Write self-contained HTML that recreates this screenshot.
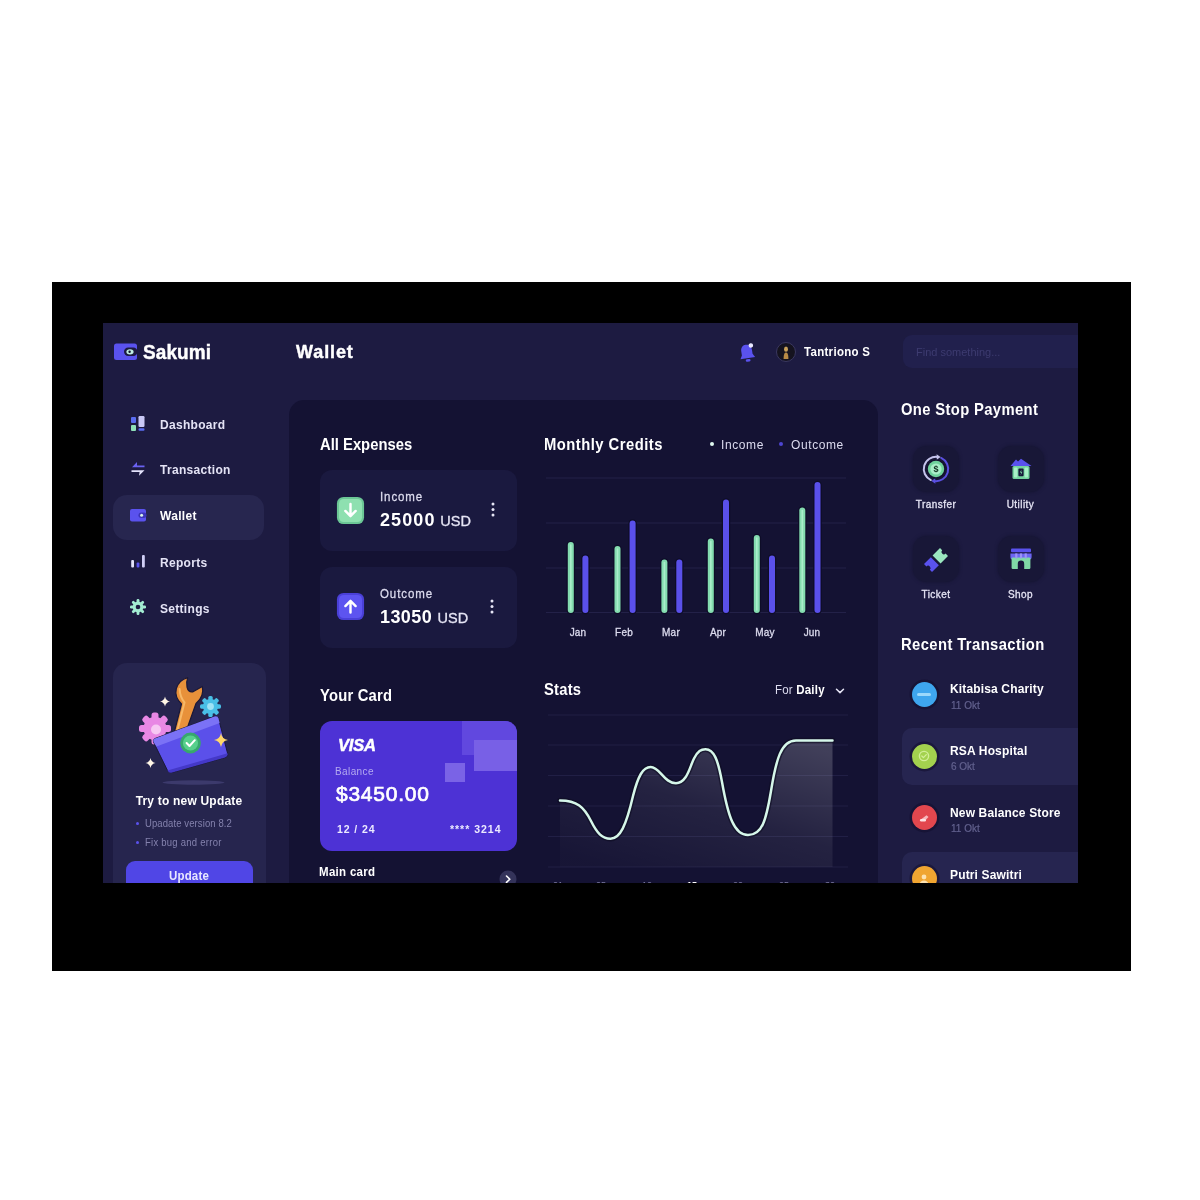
<!DOCTYPE html>
<html lang="en">
<head>
<meta charset="utf-8">
<title>Sakumi Wallet</title>
<style>
*{box-sizing:border-box;margin:0;padding:0}
html,body{width:1200px;height:1200px;background:#fff;overflow:hidden}
body{position:relative;font-family:"Liberation Sans",sans-serif;color:#fff}
.bezel{position:absolute;left:52px;top:282px;width:1079px;height:689px;background:#000}
.screen{position:absolute;left:103px;top:323px;width:975px;height:560px;overflow:hidden;background:#1d1b41}
.in{position:absolute;left:-103px;top:-323px;width:1200px;height:1200px}
.in>*{position:absolute}
.t{position:absolute;white-space:nowrap;line-height:1;transform:translate(var(--tx,0),-50%) scaleY(var(--sy,1.07))}
.b{font-weight:700}
.h{font-size:14.800px;font-weight:700;color:#fff;letter-spacing:.2px}
.nav{font-size:12px;font-weight:700;color:#e4e3f5;letter-spacing:.3px}
.dim{color:#6f6d98}
.panel{left:289px;top:400px;width:589px;height:520px;background:#141233;border-radius:15px}
.card{background:#1a193f;border-radius:12px}
.tile{width:46px;height:46px;background:#181737;border-radius:14px;box-shadow:0 0 3px 1px #181737}
.lbl{font-size:10px;color:#e4e3f3;--tx:-50%;letter-spacing:.45px;-webkit-text-stroke:.3px #e4e3f3}
.row{left:902px;width:190px;height:57px;background:#262550;border-radius:10px}
.circ{width:25px;height:25px;border-radius:50%;box-shadow:0 0 0 2.500px rgba(18,15,45,.55)}
.tt{font-size:12px;font-weight:700;color:#fff;letter-spacing:.15px}
.ts{font-size:10px;color:#62618e;-webkit-text-stroke:.2px #62618e}
.mon{font-size:10px;color:#dcdbee;--tx:-50%;-webkit-text-stroke:.3px #dcdbee;letter-spacing:.2px}
</style>
</head>
<body>
<div class="bezel"></div>
<div class="screen"><div class="in">

<!-- ===== SIDEBAR ===== -->
<svg style="left:113px;top:342px" width="26" height="20" viewBox="0 0 26 20">
  <rect x="1" y="1.5" width="23" height="16.5" rx="2.5" fill="#5a52ee"/>
  <rect x="11" y="5.5" width="13.5" height="8.5" rx="4.2" fill="#1d1b41"/>
  <ellipse cx="17" cy="9.8" rx="3.6" ry="2.6" fill="#bfeee0"/>
  <circle cx="16.6" cy="9.8" r="1.2" fill="#14132f"/>
</svg>
<div class="t b" style="left:143px;top:352px;font-size:19px;letter-spacing:.1px;-webkit-text-stroke:.4px #fff">Sakumi</div>

<div style="left:113px;top:494.500px;width:150.500px;height:45px;background:#27264f;border-radius:14px"></div>

<!-- nav icons -->
<svg style="left:129px;top:415px" width="18" height="18" viewBox="0 0 18 18">
  <rect x="2" y="2" width="5" height="6" rx="1" fill="#5a6cf0"/>
  <rect x="2" y="10" width="5" height="6" rx="1" fill="#8fe0b8"/>
  <rect x="9.5" y="1" width="6" height="11" rx="1.2" fill="#c9c8f5"/>
  <rect x="9.5" y="13.2" width="6" height="2.6" rx="1" fill="#5a6cf0"/>
</svg>
<svg style="left:129px;top:460px" width="18" height="18" viewBox="0 0 18 18">
  <path d="M3 7.2 L8 2 L8 5.6 L15.5 5.6 L15.5 7.2 Z" fill="#6a62f2"/>
  <path d="M15.5 10.2 L10 15.8 L10.6 12 L2.5 12 L2.5 10.2 Z" fill="#e4e3fb"/>
</svg>
<svg style="left:129px;top:507px" width="18" height="16" viewBox="0 0 18 16">
  <rect x="1" y="2" width="16" height="12.5" rx="2" fill="#5a52ee"/>
  <rect x="9.5" y="5.5" width="8" height="5.5" rx="2.7" fill="#3b34b8"/>
  <circle cx="12.6" cy="8.2" r="1.5" fill="#d9f3ea"/>
</svg>
<svg style="left:129px;top:552px" width="18" height="18" viewBox="0 0 18 18">
  <rect x="2.2" y="8" width="2.8" height="7.5" rx="1" fill="#e4e3fb"/>
  <rect x="7.6" y="10.5" width="2.8" height="5" rx="1" fill="#5a52ee"/>
  <rect x="13" y="3" width="2.8" height="12.5" rx="1" fill="#d0cff5"/>
</svg>
<svg style="left:129px;top:598px" width="18" height="18" viewBox="0 0 18 18">
  <g fill="#a3ecd2">
    <circle cx="9" cy="9" r="5.4"/>
    <g id="tth"><rect x="7.6" y="1" width="2.8" height="16" rx="1.2"/></g>
    <rect x="7.6" y="1" width="2.8" height="16" rx="1.2" transform="rotate(45 9 9)"/>
    <rect x="7.6" y="1" width="2.8" height="16" rx="1.2" transform="rotate(90 9 9)"/>
    <rect x="7.6" y="1" width="2.8" height="16" rx="1.2" transform="rotate(135 9 9)"/>
  </g>
  <circle cx="9" cy="9" r="2.3" fill="#1d1b41"/>
</svg>

<div class="t nav" style="left:160px;top:424.500px">Dashboard</div>
<div class="t nav" style="left:160px;top:469.500px">Transaction</div>
<div class="t nav" style="left:160px;top:516px;color:#fff">Wallet</div>
<div class="t nav" style="left:160px;top:562.500px">Reports</div>
<div class="t nav" style="left:160px;top:608.500px">Settings</div>

<!-- update card -->
<div style="left:113px;top:663px;width:153px;height:260px;background:#26254e;border-radius:14px"></div>
<svg style="left:130px;top:670px" width="120" height="120" viewBox="130 670 120 120">
  <ellipse cx="193.500" cy="782.500" rx="31" ry="2.2" fill="#3c3a6c"/>
  <!-- wrench -->
  <path d="M187.700 677.600 Q186 682 187 687 Q188.300 692.600 193 691.800 L202.300 686.400 Q204.500 696.500 196 703.500 L186 731.500 L173.800 734 L181.500 704 Q174.300 697 176.300 688.500 Q178.800 680 187.700 677.600 Z" fill="#e8913a" stroke="#1a1838" stroke-width="1.200" stroke-linejoin="round"/>
  <path d="M179.600 689 Q180 697 184.500 702.500 L177.500 730" stroke="#f7b867" stroke-width="2" stroke-linecap="round" fill="none"/>
  <!-- pink gear -->
  <g fill="#e888e4">
    <circle cx="155" cy="728.500" r="11.500"/>
    <g>
      <rect x="151.500" y="712.500" width="7" height="32" rx="2.500"/>
      <rect x="151.500" y="712.500" width="7" height="32" rx="2.500" transform="rotate(45 155 728.500)"/>
      <rect x="151.500" y="712.500" width="7" height="32" rx="2.500" transform="rotate(90 155 728.500)"/>
      <rect x="151.500" y="712.500" width="7" height="32" rx="2.500" transform="rotate(135 155 728.500)"/>
    </g>
  </g>
  <circle cx="156" cy="729.500" r="5" fill="#f7c8f3"/>
  <!-- cyan gear -->
  <g fill="#49bfe6">
    <circle cx="210.500" cy="706.500" r="7.600"/>
    <rect x="208.300" y="696" width="4.400" height="21" rx="1.600"/>
    <rect x="208.300" y="696" width="4.400" height="21" rx="1.600" transform="rotate(45 210.500 706.500)"/>
    <rect x="208.300" y="696" width="4.400" height="21" rx="1.600" transform="rotate(90 210.500 706.500)"/>
    <rect x="208.300" y="696" width="4.400" height="21" rx="1.600" transform="rotate(135 210.500 706.500)"/>
  </g>
  <circle cx="210.500" cy="706.500" r="3.400" fill="#9fe3f5"/>
  <!-- folder body -->
  <path d="M153.500 742 Q152.500 739.500 155 738.500 L214.500 716.500 Q217.500 715.500 218.500 718.500 L227.500 753 Q228.300 756.500 225 757.500 L172 772.500 Q169 773.300 167.500 770.500 Z" fill="#5b50ea" stroke="#1a1838" stroke-width="1"/>
  <path d="M153.500 742 Q152.500 739.500 155 738.500 L214.500 716.500 Q217.500 715.500 218.500 718.500 L219.700 723 L156.500 746.500 Z" fill="#7b72f6"/>
  <path d="M167.500 770.500 L225 754 Q228 753 227.500 753 Q228.300 756.500 225 757.500 L172 772.500 Q169 773.300 167.500 770.500 Z" fill="#4438c8"/>
  <!-- check -->
  <circle cx="190.500" cy="743" r="10.400" fill="#37a86c"/>
  <circle cx="190.500" cy="743" r="7.600" fill="#57d08c"/>
  <path d="M186.600 743 L189.500 746 L194.800 740.200" fill="none" stroke="#fff" stroke-width="2" stroke-linecap="round" stroke-linejoin="round"/>
  <!-- sparkles -->
  <path d="M165 696.500 Q165.800 700.700 170 701.500 Q165.800 702.300 165 706.500 Q164.200 702.300 160 701.500 Q164.200 700.700 165 696.500 Z" fill="#fff6e6"/>
  <path d="M221 733 Q222 739 228 740 Q222 741 221 747 Q220 741 214 740 Q220 739 221 733 Z" fill="#ffd76a"/>
  <path d="M150.500 758 Q151.300 762.200 155.500 763 Q151.300 763.800 150.500 768 Q149.700 763.800 145.500 763 Q149.700 762.200 150.500 758 Z" fill="#fff6e6"/>
</svg>

<div class="t b" style="left:189px;top:801px;font-size:12px;--tx:-50%;letter-spacing:.2px">Try to new Update</div>
<div style="left:136px;top:822px;width:3px;height:3px;border-radius:50%;background:#5a52ee"></div>
<div style="left:136px;top:841px;width:3px;height:3px;border-radius:50%;background:#5a52ee"></div>
<div class="t" style="left:145px;top:823.500px;font-size:9.500px;color:#8482ad;letter-spacing:.1px">Upadate version 8.2</div>
<div class="t" style="left:145px;top:842.500px;font-size:9.500px;color:#8482ad;letter-spacing:.25px">Fix bug and error</div>
<div style="left:126px;top:861px;width:127px;height:40px;background:#5046e6;border-radius:9px"></div>
<div class="t b" style="left:189px;top:877px;font-size:11.500px;--tx:-50%;color:#e8e7ff;letter-spacing:.2px">Update</div>

<!-- ===== HEADER ===== -->
<div class="t b" style="left:296px;top:352px;font-size:18px;letter-spacing:.9px;-webkit-text-stroke:.4px #fff">Wallet</div>
<svg style="left:737px;top:341px;transform:rotate(-9deg)" width="22" height="24" viewBox="0 0 22 24">
  <path d="M10 3.5 C6.3 3.5 4.6 6.4 4.6 9.4 L4.6 13.4 L2.6 17 L17.4 17 L15.4 13.4 L15.4 9.4 C15.4 6.4 13.7 3.5 10 3.5 Z" fill="#5a52ee"/>
  <rect x="7.6" y="18" width="4.8" height="2.6" rx="1.3" fill="#5a52ee"/>
  <circle cx="15" cy="5" r="2.3" fill="#e9e8ff"/>
</svg>
<svg style="left:775px;top:341px" width="22" height="22" viewBox="0 0 22 22">
  <circle cx="11" cy="11" r="9.5" fill="#15131f"/>
  <circle cx="11" cy="11" r="9.5" fill="none" stroke="#3a3760" stroke-width="1"/>
  <ellipse cx="11" cy="8.2" rx="2" ry="2.6" fill="#c9a15a"/>
  <path d="M8.6 18 C8.6 13.5 9.5 11.5 11 11.5 C12.5 11.5 13.4 13.5 13.4 18 Z" fill="#b88a45"/>
</svg>
<div class="t b" style="left:804px;top:353px;font-size:11.500px;letter-spacing:.3px">Tantriono S</div>
<div style="left:903px;top:335px;width:200px;height:33px;background:#21204d;border-radius:9px"></div>
<div class="t" style="left:916px;top:352px;font-size:11px;color:#3d3b70">Find something...</div>

<!-- ===== CENTER PANEL ===== -->
<div class="panel"></div>
<div class="t h" style="left:320px;top:445px;letter-spacing:0">All Expenses</div>

<div class="card" style="left:320px;top:470px;width:197px;height:81px"></div>
<svg style="left:335.700px;top:495.700px" width="29" height="29" viewBox="0 0 31 31">
  <rect x="1" y="1" width="29" height="29" rx="7" fill="#6cc796"/>
  <rect x="3.2" y="3.2" width="24.6" height="24.6" rx="5" fill="#8ee0b0"/>
  <path d="M15.5 8.5 V21 M10 16 L15.5 21.5 L21 16" fill="none" stroke="#fff" stroke-width="2.6" stroke-linecap="round" stroke-linejoin="round"/>
</svg>
<div class="t" style="left:380px;top:498.300px;font-size:11.500px;color:#dcdbee;letter-spacing:.9px;-webkit-text-stroke:.25px #dcdbee">Income</div>
<div class="t" style="--sy:1;left:380px;top:520px;font-size:18px;font-weight:700;letter-spacing:1.1px">25000 <span style="margin-left:-1.500px;font-size:14.500px;font-weight:400;color:#e6e5f5;letter-spacing:.1px;-webkit-text-stroke:.3px #e6e5f5">USD</span></div>
<svg style="left:489px;top:501px" width="8" height="18" viewBox="0 0 8 18"><circle cx="4" cy="3" r="1.5" fill="#e6e5f5"/><circle cx="4" cy="8.5" r="1.5" fill="#e6e5f5"/><circle cx="4" cy="14" r="1.5" fill="#e6e5f5"/></svg>

<div class="card" style="left:320px;top:567px;width:197px;height:81px"></div>
<svg style="left:335.700px;top:592.200px" width="29" height="29" viewBox="0 0 31 31">
  <rect x="1" y="1" width="29" height="29" rx="7" fill="#4a40d8"/>
  <rect x="3.2" y="3.2" width="24.6" height="24.6" rx="5" fill="#5d54f0"/>
  <path d="M15.5 22 V9.5 M10 15 L15.5 9.5 L21 15" fill="none" stroke="#fff" stroke-width="2.6" stroke-linecap="round" stroke-linejoin="round"/>
</svg>
<div class="t" style="left:380px;top:595.300px;font-size:11.500px;color:#dcdbee;letter-spacing:.9px;-webkit-text-stroke:.25px #dcdbee">Outcome</div>
<div class="t" style="--sy:1;left:380px;top:617px;font-size:18px;font-weight:700;letter-spacing:.4px">13050 <span style="font-size:14.500px;font-weight:400;color:#e6e5f5;letter-spacing:.1px;-webkit-text-stroke:.3px #e6e5f5">USD</span></div>
<svg style="left:488px;top:598px" width="8" height="18" viewBox="0 0 8 18"><circle cx="4" cy="3" r="1.5" fill="#e6e5f5"/><circle cx="4" cy="8.5" r="1.5" fill="#e6e5f5"/><circle cx="4" cy="14" r="1.5" fill="#e6e5f5"/></svg>

<div class="t h" style="left:320px;top:696px">Your Card</div>
<div style="left:320px;top:721px;width:197px;height:130px;background:#4d32d5;border-radius:12px;overflow:hidden">
  <div style="position:absolute;left:142px;top:0;width:60px;height:34px;background:#6148df"></div>
  <div style="position:absolute;left:154px;top:19px;width:50px;height:31px;background:#7860e6"></div>
  <div style="position:absolute;left:125px;top:42px;width:20px;height:19px;background:#7a63e6"></div>
</div>
<div class="t" style="--sy:1;left:338px;top:744.700px;font-size:16.500px;font-weight:700;font-style:italic;letter-spacing:-.2px;-webkit-text-stroke:.5px #fff">VISA</div>
<div class="t" style="left:335px;top:772px;font-size:10px;color:#b5abf0;letter-spacing:.4px">Balance</div>
<div class="t" style="--sy:1;left:336px;top:792.500px;font-size:21px;letter-spacing:.75px;-webkit-text-stroke:.7px #fff">$3450.00</div>
<div class="t b" style="--sy:1;left:337px;top:828.500px;font-size:10.500px;color:#eceaff;letter-spacing:.9px">12 / 24</div>
<div class="t b" style="--sy:1;right:698.500px;top:828.500px;font-size:10.500px;color:#eceaff;letter-spacing:1px">**** 3214</div>
<div class="t b" style="left:319px;top:873px;font-size:11.500px;letter-spacing:.3px">Main card</div>
<svg style="left:499px;top:870px" width="18" height="18" viewBox="0 0 18 18"><circle cx="9" cy="9" r="8.5" fill="#34335a"/><path d="M7.5 6 L10.8 9.2 L7.5 12.4" fill="none" stroke="#fff" stroke-width="1.6" stroke-linecap="round" stroke-linejoin="round"/></svg>

<!-- Monthly credits -->
<div class="t h" style="left:544px;top:445px;letter-spacing:.47px">Monthly Credits</div>
<div style="left:710px;top:442px;width:4px;height:4px;border-radius:50%;background:#e0faf0"></div>
<div class="t" style="left:721px;top:444.5px;font-size:12px;color:#dddcf0;letter-spacing:.6px">Income</div>
<div style="left:779px;top:442px;width:4px;height:4px;border-radius:50%;background:#4d45d2"></div>
<div class="t" style="left:791px;top:444.5px;font-size:12px;color:#dddcf0;letter-spacing:.6px">Outcome</div>
<svg style="left:540px;top:470px" width="320" height="150" viewBox="540 470 320 150">
  <g stroke="#232148" stroke-width="1">
    <line x1="546" y1="478" x2="846" y2="478"/><line x1="546" y1="523" x2="846" y2="523"/>
    <line x1="546" y1="568" x2="846" y2="568"/><line x1="546" y1="612.5" x2="846" y2="612.5"/>
  </g>
  <g stroke-linecap="round" fill="none">
    <g stroke="#0e0d28" stroke-width="8.500">
      <line x1="570.8" y1="545" x2="570.8" y2="610"/><line x1="617.5" y1="549" x2="617.5" y2="610"/>
      <line x1="664.4" y1="562.5" x2="664.4" y2="610"/><line x1="710.8" y1="541.5" x2="710.8" y2="610"/>
      <line x1="756.8" y1="538" x2="756.8" y2="610"/><line x1="802.3" y1="510.5" x2="802.3" y2="610"/>
    
      <line x1="585.4" y1="558.5" x2="585.4" y2="610"/><line x1="632.6" y1="523.5" x2="632.6" y2="610"/>
      <line x1="679.3" y1="562.5" x2="679.3" y2="610"/><line x1="726" y1="502.5" x2="726" y2="610"/>
      <line x1="772" y1="558.5" x2="772" y2="610"/><line x1="817.5" y1="485" x2="817.5" y2="610"/>
    </g>
    <g stroke="#84dcb0" stroke-width="6">
      <line x1="570.8" y1="545" x2="570.8" y2="610"/><line x1="617.5" y1="549" x2="617.5" y2="610"/>
      <line x1="664.4" y1="562.5" x2="664.4" y2="610"/><line x1="710.8" y1="541.5" x2="710.8" y2="610"/>
      <line x1="756.8" y1="538" x2="756.8" y2="610"/><line x1="802.3" y1="510.5" x2="802.3" y2="610"/>
    </g>
    <g stroke="#a9edcb" stroke-width="1.600">
      <line x1="570.8" y1="545" x2="570.8" y2="610"/><line x1="617.5" y1="549" x2="617.5" y2="610"/>
      <line x1="664.4" y1="562.5" x2="664.4" y2="610"/><line x1="710.8" y1="541.5" x2="710.8" y2="610"/>
      <line x1="756.8" y1="538" x2="756.8" y2="610"/><line x1="802.3" y1="510.5" x2="802.3" y2="610"/>
    </g>
    <g stroke="#5a50ea" stroke-width="6">
      <line x1="585.4" y1="558.5" x2="585.4" y2="610"/><line x1="632.6" y1="523.5" x2="632.6" y2="610"/>
      <line x1="679.3" y1="562.5" x2="679.3" y2="610"/><line x1="726" y1="502.5" x2="726" y2="610"/>
      <line x1="772" y1="558.5" x2="772" y2="610"/><line x1="817.5" y1="485" x2="817.5" y2="610"/>
    </g>
  </g>
</svg>
<div class="t mon" style="left:578px;top:633px">Jan</div>
<div class="t mon" style="left:624px;top:633px">Feb</div>
<div class="t mon" style="left:671px;top:633px">Mar</div>
<div class="t mon" style="left:718px;top:633px">Apr</div>
<div class="t mon" style="left:765px;top:633px">May</div>
<div class="t mon" style="left:812px;top:633px">Jun</div>

<!-- Stats -->
<div class="t h" style="left:544px;top:689.500px">Stats</div>
<div class="t" style="left:775px;top:691px;font-size:11.5px;color:#dddcf0;letter-spacing:.2px">For <span class="b" style="color:#fff">Daily</span></div>
<svg style="left:834px;top:685px" width="12" height="12" viewBox="0 0 12 12"><path d="M2.5 4.2 L6 7.6 L9.5 4.2" fill="none" stroke="#e6e5f5" stroke-width="1.5" stroke-linecap="round" stroke-linejoin="round"/></svg>
<svg style="left:540px;top:705px" width="320" height="185" viewBox="540 705 320 185">
  <defs><linearGradient id="ag" x1="0.15" y1="1" x2="0.85" y2="0"><stop offset="0" stop-color="#ffffff" stop-opacity=".015"/><stop offset=".5" stop-color="#ffffff" stop-opacity=".07"/><stop offset="1" stop-color="#ffffff" stop-opacity=".19"/></linearGradient></defs>
  <g stroke="#211f45" stroke-width="1">
    <line x1="548" y1="715" x2="848" y2="715"/><line x1="548" y1="745" x2="848" y2="745"/><line x1="548" y1="775.5" x2="848" y2="775.5"/>
    <line x1="548" y1="806" x2="848" y2="806"/><line x1="548" y1="836.5" x2="848" y2="836.5"/><line x1="548" y1="867" x2="848" y2="867"/>
  </g>
  <path id="cv" d="M560 800.500 C577 800.500 584 807 591 821 C597 833 602 838.700 610.500 838.700 C620 838.700 626 826 633 796 C638 776 643 767 650.700 767 C660 767 664 783.200 676 783.200 C687 783.200 690 766 694 758.500 C698 751 701 749.300 705.500 749.300 C714 749.300 718 760 722 782 C728 816 734 835 748 835 C762 835 766 821 771 791 C776 760 781 740.500 796 740.500 L832.500 740.500 L832.500 867 L560 867 Z" fill="url(#ag)"/>
  <path d="M560 800.500 C577 800.500 584 807 591 821 C597 833 602 838.700 610.500 838.700 C620 838.700 626 826 633 796 C638 776 643 767 650.700 767 C660 767 664 783.200 676 783.200 C687 783.200 690 766 694 758.500 C698 751 701 749.300 705.500 749.300 C714 749.300 718 760 722 782 C728 816 734 835 748 835 C762 835 766 821 771 791 C776 760 781 740.500 796 740.500 L832.500 740.500" fill="none" stroke="#0d0c22" stroke-width="5.5" stroke-linecap="round" opacity=".6"/>
  <path d="M560 800.500 C577 800.500 584 807 591 821 C597 833 602 838.700 610.500 838.700 C620 838.700 626 826 633 796 C638 776 643 767 650.700 767 C660 767 664 783.200 676 783.200 C687 783.200 690 766 694 758.500 C698 751 701 749.300 705.500 749.300 C714 749.300 718 760 722 782 C728 816 734 835 748 835 C762 835 766 821 771 791 C776 760 781 740.500 796 740.500 L832.500 740.500" fill="none" stroke="#d6f7ea" stroke-width="2.5" stroke-linecap="round"/>
</svg>
<div class="t" style="left:558px;top:884.500px;font-size:9px;color:#7d7ba3;--tx:-50%">01</div>
<div class="t" style="left:601px;top:884.500px;font-size:9px;color:#7d7ba3;--tx:-50%">05</div>
<div class="t" style="left:647px;top:884.500px;font-size:9px;color:#7d7ba3;--tx:-50%">10</div>
<div class="t b" style="left:692px;top:884.500px;font-size:9px;color:#fff;--tx:-50%">15</div>
<div class="t" style="left:738px;top:884.500px;font-size:9px;color:#7d7ba3;--tx:-50%">20</div>
<div class="t" style="left:784px;top:884.500px;font-size:9px;color:#7d7ba3;--tx:-50%">25</div>
<div class="t" style="left:830px;top:884.500px;font-size:9px;color:#7d7ba3;--tx:-50%">30</div>



<!-- ===== RIGHT COLUMN ===== -->
<div class="t h" style="left:901px;top:410.200px;letter-spacing:.35px">One Stop Payment</div>
<div class="tile" style="left:913px;top:446px"></div>
<div class="tile" style="left:998px;top:446px"></div>
<div class="tile" style="left:913px;top:536px"></div>
<div class="tile" style="left:998px;top:536px"></div>
<!-- transfer -->
<svg style="left:920px;top:453px" width="32" height="32" viewBox="0 0 32 32">
  <path d="M10.84 27.06 A12.2 12.2 0 0 1 17.70 3.92" fill="none" stroke="#c5c4ec" stroke-width="2" stroke-linecap="round"/>
  <path d="M21.16 4.94 A12.2 12.2 0 0 1 14.30 28.08" fill="none" stroke="#5a4fe0" stroke-width="2" stroke-linecap="round"/>
  <path d="M16.600 1.300 L20.600 4 L16.800 6.800 Z" fill="#c5c4ec"/>
  <path d="M15.400 30.700 L11.400 28 L15.200 25.200 Z" fill="#5a4fe0"/>
  <circle cx="16" cy="16" r="9.600" fill="#13122e"/>
  <circle cx="16" cy="16" r="8.200" fill="#6fd39c"/>
  <circle cx="16" cy="16" r="5.600" fill="#a9efc8"/>
  <text x="16" y="19.200" font-family="Liberation Sans, sans-serif" font-size="9" font-weight="700" text-anchor="middle" fill="#123221">$</text>
</svg>
<!-- utility -->
<svg style="left:1007px;top:455px" width="28" height="28" viewBox="0 0 28 28">
  <path d="M3.5 11 L9 4.5 L11 6.5 L14 3.8 L24.5 11 Z" fill="#5a52ee"/>
  <rect x="5.500" y="11" width="17" height="13" rx="1.500" fill="#74d39f"/>
  <rect x="7" y="12.500" width="3.400" height="10" rx=".800" fill="#a9efc8"/><rect x="17.600" y="12.500" width="3.400" height="10" rx=".800" fill="#a9efc8"/>
  <rect x="11.4" y="13.6" width="5.2" height="7.6" rx="1" fill="#17153a"/>
  <path d="M14.6 14.4 L12.8 17.6 L14.2 17.6 L13.6 20.4 L15.4 16.8 L14 16.8 Z" fill="#7fd9a6"/>
</svg>
<!-- ticket -->
<svg style="left:920px;top:543.500px" width="32" height="32" viewBox="0 0 28 28">
  <path d="M3.5 17.5 L9.5 11.5 L16.5 18.5 L10.5 24.5 L8.6 22.6 A1.8 1.8 0 0 0 5.6 19.6 Z" fill="#5a52ee"/>
  <path d="M11 10 L17.5 3.5 L19.4 5.4 A1.8 1.8 0 0 0 22.4 8.4 L24.5 10.5 L18 17 Z" fill="#9be7c0"/>
</svg>
<!-- shop -->
<svg style="left:1007px;top:545px" width="28" height="28" viewBox="0 0 28 28">
  <rect x="4" y="3.6" width="20" height="3.6" rx="1" fill="#5a52ee"/>
  <path d="M3.4 8.4 H24.6 V12 A2.6 2.6 0 0 1 19.3 12 A2.6 2.6 0 0 1 14 12 A2.6 2.6 0 0 1 8.7 12 A2.6 2.6 0 0 1 3.4 12 Z" fill="#6d65f2"/>
  <rect x="4.600" y="12.400" width="18.800" height="11.600" rx="1.200" fill="#7fd9a6"/>
  <rect x="8.200" y="8.400" width="2.200" height="5" fill="#9a94f7"/><rect x="12.900" y="8.400" width="2.200" height="5" fill="#9a94f7"/><rect x="17.600" y="8.400" width="2.200" height="5" fill="#9a94f7"/>
  <path d="M10.8 24 V18.8 A3.2 3.2 0 0 1 17.2 18.8 V24 Z" fill="#17153a"/>
</svg>
<div class="t lbl" style="left:936px;top:505px">Transfer</div>
<div class="t lbl" style="left:1020.500px;top:505px">Utility</div>
<div class="t lbl" style="left:936px;top:595px">Ticket</div>
<div class="t lbl" style="left:1020.500px;top:595px">Shop</div>

<div class="t h" style="left:901px;top:645px;letter-spacing:.4px">Recent Transaction</div>
<div class="row" style="top:728px"></div>
<div class="row" style="top:852px"></div>

<div class="circ" style="left:911.5px;top:682px;background:#3ea6ee"></div>
<div style="left:917px;top:693px;width:14px;height:3px;border-radius:2px;background:#9bd8fb"></div>
<div class="t tt" style="left:950px;top:689px">Kitabisa Charity</div>
<div class="t ts" style="left:951px;top:705.500px">11 Okt</div>

<div class="circ" style="left:911.5px;top:743.500px;background:#a3d24e"></div>
<svg style="left:917px;top:749px" width="14" height="14" viewBox="0 0 14 14"><circle cx="7" cy="7" r="4.6" fill="none" stroke="#d2ee98" stroke-width="1.4"/><path d="M4.8 7 L6.4 8.6 L9.3 5.6" fill="none" stroke="#d2ee98" stroke-width="1.3" stroke-linecap="round" stroke-linejoin="round"/></svg>
<div class="t tt" style="left:950px;top:751px">RSA Hospital</div>
<div class="t ts" style="left:951px;top:767px">6 Okt</div>

<div class="circ" style="left:911.5px;top:805px;background:#e2474e"></div>
<svg style="left:917px;top:810.500px" width="14" height="14" viewBox="0 0 14 14"><path d="M2.5 9.5 L9.5 4.2 L11.5 6 L8 9.8 Z" fill="#f7b9bc"/><rect x="3" y="8" width="6" height="2.4" rx="1.2" fill="#fde3e4"/></svg>
<div class="t tt" style="left:950px;top:813px">New Balance Store</div>
<div class="t ts" style="left:951px;top:829px">11 Okt</div>

<div class="circ" style="left:911.5px;top:866px;background:#f0a531"></div>
<svg style="left:917px;top:872px" width="14" height="14" viewBox="0 0 14 14"><circle cx="7" cy="5" r="2.4" fill="#fde2b0"/><path d="M2.5 13 A4.5 4.5 0 0 1 11.500 13 Z" fill="#fde2b0"/></svg>
<div class="t tt" style="left:950px;top:874.500px">Putri Sawitri</div>


</div></div>
</body>
</html>
